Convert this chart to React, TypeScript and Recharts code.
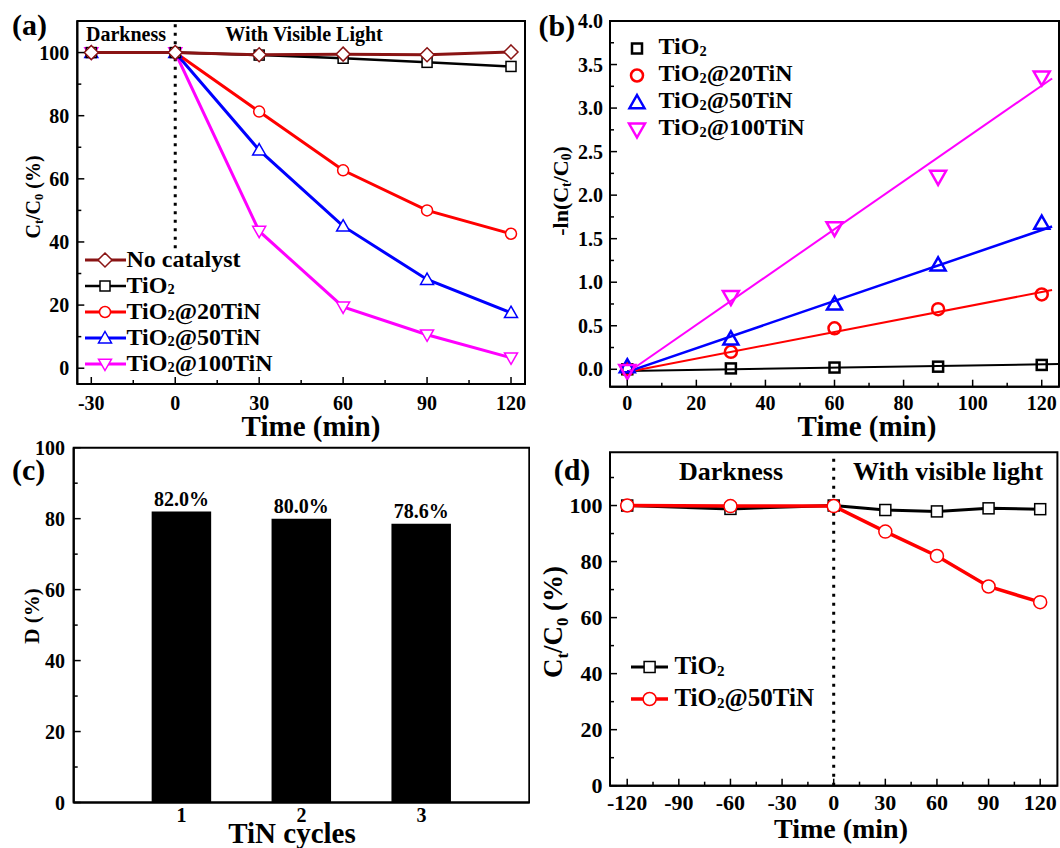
import React from "react"
import {
    LineChart, Line, ComposedChart, Scatter, BarChart, Bar, LabelList,
    XAxis, YAxis, ReferenceArea, ReferenceLine, Legend,
} from "recharts"

const FONT = "'Liberation Serif', 'Times New Roman', serif"

// ---- panel (a): Ct/C0 vs time ----
const timeA = [-30, 0, 30, 60, 90, 120]
const noCatalystA = [100, 100, 99.3, 99.5, 99.3, 100.2]
const tio2A = [100, 100, 99.2, 98.2, 96.9, 95.6]
const tin20A = [100, 100, 81.3, 62.7, 50.0, 42.6]
const tin50A = [100, 100, 69.1, 45.0, 28.1, 17.6]
const tin100A = [100, 100, 43.4, 19.4, 10.6, 3.3]
const xTicksA = [-30, -15, 0, 15, 30, 45, 60, 75, 90, 105, 120]
const xMajorA = [-30, 0, 30, 60, 90, 120]
const yTicksA = [0, 10, 20, 30, 40, 50, 60, 70, 80, 90, 100]
const yMajorA = [0, 20, 40, 60, 80, 100]

// ---- panel (b): -ln(Ct/C0) vs time ----
const timeB = [0, 30, 60, 90, 120]
const tio2B = [0, 0.01, 0.02, 0.03, 0.05]
const tin20B = [0, 0.2, 0.47, 0.69, 0.86]
const tin50B = [0.03, 0.35, 0.75, 1.2, 1.68]
const tin100B = [-0.02, 0.83, 1.62, 2.21, 3.35]
const fitTimeB = [0, 123]
const fitTimeTio2B = [0, 125]
const fitTio2B = [-0.02, 0.06]
const fitTin20B = [-0.03, 0.91]
const fitTin50B = [-0.03, 1.64]
const fitTin100B = [-0.04, 3.34]
const xTicksB = [0, 10, 20, 30, 40, 50, 60, 70, 80, 90, 100, 110, 120]
const xMajorB = [0, 20, 40, 60, 80, 100, 120]
const yTicksB = [0, 0.25, 0.5, 0.75, 1, 1.25, 1.5, 1.75, 2, 2.25, 2.5, 2.75, 3, 3.25, 3.5, 3.75, 4]
const yMajorB = [0, 0.5, 1, 1.5, 2, 2.5, 3, 3.5, 4]

// ---- panel (c): removal per TiN cycle ----
const cyclesC = [1, 2, 3]
const removalC = [82.0, 80.0, 78.6]
const yTicksC = [0, 10, 20, 30, 40, 50, 60, 70, 80, 90, 100]
const yMajorC = [0, 20, 40, 60, 80, 100]

// ---- panel (d): dark + light ----
const timeD = [-120, -60, 0, 30, 60, 90, 120]
const tio2D = [100, 98.8, 100, 98.4, 97.9, 99.0, 98.7]
const tin50D = [100, 99.8, 99.8, 90.7, 82.0, 71.1, 65.5]
const xTicksD = [-120, -105, -90, -75, -60, -45, -30, -15, 0, 15, 30, 45, 60, 75, 90, 105, 120]
const xMajorD = [-120, -90, -60, -30, 0, 30, 60, 90, 120]
const yTicksD = [0, 10, 20, 30, 40, 50, 60, 70, 80, 90, 100, 110]
const yMajorD = [0, 20, 40, 60, 80, 100]

const rowsA = timeA.map((t, i) => ({
    t, noCat: noCatalystA[i], tio2: tio2A[i], tin20: tin20A[i], tin50: tin50A[i], tin100: tin100A[i],
}))
const rowsB = timeB.map((t, i) => ({ t, tio2: tio2B[i], tin20: tin20B[i], tin50: tin50B[i], tin100: tin100B[i] }))
const fitRowsB = fitTimeB.map((t, i) => ({ t, tin20: fitTin20B[i], tin50: fitTin50B[i], tin100: fitTin100B[i] }))
const fitRowsTio2B = fitTimeTio2B.map((t, i) => ({ t, tio2: fitTio2B[i] }))
const rowsC = cyclesC.map((c, i) => ({ cycle: c, d: removalC[i] }))
const rowsD = timeD.map((t, i) => ({ t, tio2: tio2D[i], tin50: tin50D[i] }))

type Shape = "circle" | "square" | "diamond" | "tri" | "itri"

const Marker = ({ shape, cx, cy, size, color, sw, fill = "#fff" }: any) => {
    if (cx == null || cy == null) return null
    const h = size / 2
    const p = { fill, stroke: color, strokeWidth: sw }
    switch (shape as Shape) {
        case "circle":
            return <circle cx={cx} cy={cy} r={h} {...p} />
        case "square":
            return <rect x={cx - h} y={cy - h} width={size} height={size} {...p} />
        case "diamond":
            return <polygon points={`${cx},${cy - h} ${cx + h},${cy} ${cx},${cy + h} ${cx - h},${cy}`} {...p} />
        case "tri":
            return <polygon points={`${cx},${cy - h} ${cx + h},${cy + h * 0.75} ${cx - h},${cy + h * 0.75}`} {...p} />
        default:
            return <polygon points={`${cx},${cy + h} ${cx + h},${cy - h * 0.75} ${cx - h},${cy - h * 0.75}`} {...p} />
    }
}

type TickOpts = {
    side: "bottom" | "left"
    majors: number[]
    fmt: (v: number) => string
    fontSize: number
    gap: number
    lines?: boolean
}

const makeTick = (o: TickOpts) => (props: any) => {
    const { x, y, payload, index } = props
    const v = Number(payload.value)
    const major = o.majors.some((m) => Math.abs(m - v) < 1e-9)
    const len = major ? 7 : 4
    const showLine = o.lines !== false
    const txt = {
        fontFamily: FONT, fontWeight: "bold" as const, fontSize: o.fontSize, fill: "#000",
        dominantBaseline: "central" as const,
    }
    if (o.side === "bottom") {
        return (
            <g key={index}>
                {showLine && <line x1={x} x2={x} y1={y} y2={y - len} stroke="#000" strokeWidth={1.5} />}
                {major && <text x={x} y={y + o.gap} textAnchor="middle" {...txt}>{o.fmt(v)}</text>}
            </g>
        )
    }
    return (
        <g key={index}>
            {showLine && <line x1={x} x2={x + len} y1={y} y2={y} stroke="#000" strokeWidth={1.5} />}
            {major && <text x={x - o.gap} y={y} textAnchor="end" {...txt}>{o.fmt(v)}</text>}
        </g>
    )
}

const int = (v: number) => `${v}`
const one = (v: number) => v.toFixed(1)

const Sub = ({ s }: { s: string }) => (
    <span style={{ fontSize: "0.6em", position: "relative", top: "0.12em" }}>{s}</span>
)

type LegendItem = { key: string; pre: string; sub: string; post: string; color: string; shape: Shape; size: number; lw: number }

const LegendBox = ({ items, svgW, markerX, gap, rowH, fontSize, line, sw, fill }: any) => (
    <div style={{ fontFamily: FONT, fontWeight: "bold", fontSize, color: "#000" }}>
        {items.map((it: LegendItem) => (
            <div key={it.key} style={{ display: "flex", alignItems: "center", height: rowH }}>
                <svg width={svgW} height={rowH} style={{ flex: "none", display: "block" }}>
                    {line && <line x1={0} x2={svgW} y1={rowH / 2} y2={rowH / 2} stroke={it.color} strokeWidth={it.lw} />}
                    <Marker shape={it.shape} cx={markerX} cy={rowH / 2} size={it.size} color={it.color} sw={sw} fill={fill} />
                </svg>
                <span style={{ marginLeft: gap, whiteSpace: "nowrap", lineHeight: `${rowH}px` }}>
                    {it.pre}<Sub s={it.sub} />{it.post}
                </span>
            </div>
        ))}
    </div>
)

const seriesA: (LegendItem & { dataKey: string })[] = [
    { key: "a0", dataKey: "noCat", pre: "No catalyst", sub: "", post: "", color: "#8a1414", shape: "diamond", size: 14, lw: 3 },
    { key: "a1", dataKey: "tio2", pre: "TiO", sub: "2", post: "", color: "#000", shape: "square", size: 10, lw: 2.5 },
    { key: "a2", dataKey: "tin20", pre: "TiO", sub: "2", post: "@20TiN", color: "#ff0000", shape: "circle", size: 11, lw: 3 },
    { key: "a3", dataKey: "tin50", pre: "TiO", sub: "2", post: "@50TiN", color: "#0000ff", shape: "tri", size: 13, lw: 3 },
    { key: "a4", dataKey: "tin100", pre: "TiO", sub: "2", post: "@100TiN", color: "#ff00ff", shape: "itri", size: 13, lw: 3 },
]

const seriesB: (LegendItem & { dataKey: string })[] = [
    { key: "b0", dataKey: "tio2", pre: "TiO", sub: "2", post: "", color: "#000", shape: "square", size: 10, lw: 2 },
    { key: "b1", dataKey: "tin20", pre: "TiO", sub: "2", post: "@20TiN", color: "#ff0000", shape: "circle", size: 12, lw: 2 },
    { key: "b2", dataKey: "tin50", pre: "TiO", sub: "2", post: "@50TiN", color: "#0000ff", shape: "tri", size: 15, lw: 2.5 },
    { key: "b3", dataKey: "tin100", pre: "TiO", sub: "2", post: "@100TiN", color: "#ff00ff", shape: "itri", size: 16, lw: 2 },
]

const seriesD: (LegendItem & { dataKey: string })[] = [
    { key: "d0", dataKey: "tio2", pre: "TiO", sub: "2", post: "", color: "#000", shape: "square", size: 11, lw: 3 },
    { key: "d1", dataKey: "tin50", pre: "TiO", sub: "2", post: "@50TiN", color: "#ff0000", shape: "circle", size: 13, lw: 3.5 },
]

const frame = { fill: "none", stroke: "#000", strokeWidth: 2, fillOpacity: 0 }
const axisLine = { stroke: "#000", strokeWidth: 2 }

const PanelA = () => (
    <LineChart width={530} height={420} data={rowsA} margin={{ top: 21, right: 5, bottom: 0, left: 0 }}>
        <XAxis type="number" dataKey="t" domain={[-35, 125]} ticks={xTicksA} interval={0} height={36}
            axisLine={axisLine} tickLine={false} tickSize={0} tickMargin={0}
            tick={makeTick({ side: "bottom", majors: xMajorA, fmt: int, fontSize: 20, gap: 19 })} />
        <YAxis type="number" domain={[-5, 110]} ticks={yTicksA} interval={0} width={77.3}
            axisLine={axisLine} tickLine={false} tickSize={0} tickMargin={0}
            tick={makeTick({ side: "left", majors: yMajorA, fmt: int, fontSize: 20, gap: 8 })} />
        <ReferenceArea y1={-5} y2={110} {...frame} ifOverflow="visible" />
        <ReferenceLine segment={[{ x: 0, y: 38 }, { x: 0, y: 110 }]} stroke="#000" strokeWidth={3} strokeDasharray="3 5.5" />
        {[...seriesA].reverse().map((s) => (
            <Line key={s.key} type="linear" dataKey={s.dataKey} stroke={s.color} strokeWidth={s.lw}
                isAnimationActive={false} activeDot={false}
                dot={(p: any) => <Marker key={`${s.key}-${p.index}`} shape={s.shape} cx={p.cx} cy={p.cy} size={s.size} color={s.color} sw={1.5} />} />
        ))}
        <Legend layout="vertical" align="center" verticalAlign="middle"
            wrapperStyle={{ left: 84.5, top: 247, width: "auto", height: "auto" }}
            content={() => <LegendBox items={seriesA} svgW={41} markerX={20} gap={1} rowH={26} fontSize={24} line sw={1.5} />} />
    </LineChart>
)

const PanelB = () => (
    <ComposedChart width={530} height={420} margin={{ top: 21, right: 1, bottom: 0, left: 0 }}>
        <XAxis type="number" dataKey="t" domain={[-5, 125]} ticks={xTicksB} interval={0} height={33.3}
            axisLine={axisLine} tickLine={false} tickSize={0} tickMargin={0}
            tick={makeTick({ side: "bottom", majors: xMajorB, fmt: int, fontSize: 20, gap: 16.5 })} />
        <YAxis type="number" domain={[-0.2, 4]} ticks={yTicksB} interval={0} width={80}
            axisLine={axisLine} tickLine={false} tickSize={0} tickMargin={0}
            tick={makeTick({ side: "left", majors: yMajorB, fmt: one, fontSize: 20, gap: 7 })} />
        <ReferenceArea y1={-0.2} y2={4} {...frame} ifOverflow="visible" />
        <Line data={fitRowsTio2B} dataKey="tio2" stroke="#000" strokeWidth={2} dot={false} activeDot={false} isAnimationActive={false} />
        <Line data={fitRowsB} dataKey="tin20" stroke="#ff0000" strokeWidth={2} dot={false} activeDot={false} isAnimationActive={false} />
        <Line data={fitRowsB} dataKey="tin50" stroke="#0000ff" strokeWidth={2.5} dot={false} activeDot={false} isAnimationActive={false} />
        <Line data={fitRowsB} dataKey="tin100" stroke="#ff00ff" strokeWidth={2} dot={false} activeDot={false} isAnimationActive={false} />
        {seriesB.map((s) => (
            <Scatter key={s.key} data={rowsB} dataKey={s.dataKey} isAnimationActive={false}
                shape={(p: any) => <Marker shape={s.shape} cx={p.cx} cy={p.cy} size={s.size} color={s.color} sw={2.5} fill="none" />} />
        ))}
        <Legend layout="vertical" align="center" verticalAlign="middle"
            wrapperStyle={{ left: 96.5, top: 34.5, width: "auto", height: "auto" }}
            content={() => <LegendBox items={seriesB} svgW={20} markerX={10} gap={12} rowH={27} fontSize={24} line={false} sw={2.5} fill="none" />} />
    </ComposedChart>
)

const PanelC = () => (
    <BarChart width={530} height={428} data={rowsC} margin={{ top: 27.7, right: 0.7, bottom: 0, left: 0 }}>
        <XAxis type="number" dataKey="cycle" domain={[0.1, 3.9]} ticks={cyclesC} interval={0} height={45.5}
            axisLine={axisLine} tickLine={false} tickSize={0} tickMargin={0}
            tick={makeTick({ side: "bottom", majors: cyclesC, fmt: int, fontSize: 20, gap: 12.5, lines: false })} />
        <YAxis type="number" domain={[0, 100]} ticks={yTicksC} interval={0} width={73.7}
            axisLine={axisLine} tickLine={false} tickSize={0} tickMargin={0}
            tick={makeTick({ side: "left", majors: yMajorC, fmt: int, fontSize: 20, gap: 8.7 })} />
        <ReferenceArea y1={0} y2={100} {...frame} ifOverflow="visible" />
        <Bar dataKey="d" fill="#000" barSize={59.5} isAnimationActive={false}>
            <LabelList dataKey="d" position="top" offset={6} formatter={(v: any) => `${Number(v).toFixed(1)}%`}
                fill="#000" fontSize={20} fontWeight="bold" fontFamily={FONT} />
        </Bar>
    </BarChart>
)

const PanelD = () => (
    <LineChart width={530} height={428} data={rowsD} margin={{ top: 32.3, right: 2.6, bottom: 0, left: 0 }}>
        <XAxis type="number" dataKey="t" domain={[-130, 130]} ticks={xTicksD} interval={0} height={62.3}
            axisLine={axisLine} tickLine={false} tickSize={0} tickMargin={0}
            tick={makeTick({ side: "bottom", majors: xMajorD, fmt: int, fontSize: 22, gap: 17 })} />
        <YAxis type="number" domain={[0, 119]} ticks={yTicksD} interval={0} width={80}
            axisLine={axisLine} tickLine={false} tickSize={0} tickMargin={0}
            tick={makeTick({ side: "left", majors: yMajorD, fmt: int, fontSize: 22, gap: 7.4 })} />
        <ReferenceArea y1={0} y2={119} {...frame} ifOverflow="visible" />
        <ReferenceLine x={0} stroke="#000" strokeWidth={3} strokeDasharray="3 6" />
        {seriesD.map((s) => (
            <Line key={s.key} type="linear" dataKey={s.dataKey} stroke={s.color} strokeWidth={s.lw}
                isAnimationActive={false} activeDot={false}
                dot={(p: any) => <Marker key={`${s.key}-${p.index}`} shape={s.shape} cx={p.cx} cy={p.cy} size={s.size} color={s.color} sw={1.5} />} />
        ))}
        <Legend layout="vertical" align="center" verticalAlign="middle"
            wrapperStyle={{ left: 101.4, top: 231.3, width: "auto", height: "auto" }}
            content={() => <LegendBox items={seriesD} svgW={37} markerX={18.6} gap={6} rowH={32} fontSize={25} line sw={1.5} />} />
    </LineChart>
)

const T = (p: any) => <text fontFamily={FONT} fontWeight="bold" fill="#000" {...p} />

const subT = (fs: number, s: string, shift: number) => [
    <tspan key="a" fontSize={fs * 0.62} dy={shift}>{s}</tspan>,
]

const Overlay = () => (
    <svg width={1060} height={848} style={{ position: "absolute", left: 0, top: 0, pointerEvents: "none" }}>
        {/* panel letters */}
        <T x={12} y={35} fontSize={30}>(a)</T>
        <T x={538.5} y={36} fontSize={30}>(b)</T>
        <T x={12} y={480} fontSize={30}>(c)</T>
        <T x={553.7} y={480} fontSize={30}>(d)</T>

        {/* annotations */}
        <T x={126} y={41} fontSize={20} textAnchor="middle">Darkness</T>
        <T x={304} y={41} fontSize={20} textAnchor="middle">With Visible Light</T>
        <T x={731} y={480} fontSize={26} textAnchor="middle">Darkness</T>
        <T x={948} y={480} fontSize={26} textAnchor="middle">With visible light</T>

        {/* x titles */}
        <T x={311} y={436} fontSize={29} textAnchor="middle">Time (min)</T>
        <T x={867} y={436} fontSize={29} textAnchor="middle">Time (min)</T>
        <T x={292} y={843} fontSize={29} textAnchor="middle">TiN cycles</T>
        <T x={841} y={838} fontSize={28} textAnchor="middle">Time (min)</T>

        {/* y titles */}
        <T x={0} y={0} fontSize={20} textAnchor="middle" transform="translate(39.5,197) rotate(-90)">
            C{subT(20, "t", 3)}<tspan dy={-3}>/C</tspan>{subT(20, "0", 3)}<tspan dy={-3}> (%)</tspan>
        </T>
        <T x={0} y={0} fontSize={22} textAnchor="middle" transform="translate(568,191) rotate(-90)">
            -ln(C{subT(22, "t", 3)}<tspan dy={-3}>/C</tspan>{subT(22, "0", 3)}<tspan dy={-3}>)</tspan>
        </T>
        <T x={0} y={0} fontSize={21} textAnchor="middle" transform="translate(38.5,616) rotate(-90)">D (%)</T>
        <T x={0} y={0} fontSize={27} textAnchor="middle" transform="translate(562,622) rotate(-90)">
            C{subT(27, "t", 6)}<tspan dy={-6}>/C</tspan>{subT(27, "0", 6)}<tspan dy={-6}> (%)</tspan>
        </T>
    </svg>
)

export default function App() {
    return (
        <div style={{ position: "absolute", left: 0, top: 0, width: 1060, height: 848, background: "#fff", overflow: "hidden" }}>
            <div style={{ position: "absolute", left: 0, top: 0 }}><PanelA /></div>
            <div style={{ position: "absolute", left: 530, top: 0 }}><PanelB /></div>
            <div style={{ position: "absolute", left: 0, top: 420 }}><PanelC /></div>
            <div style={{ position: "absolute", left: 530, top: 420 }}><PanelD /></div>
            <Overlay />
        </div>
    )
}
